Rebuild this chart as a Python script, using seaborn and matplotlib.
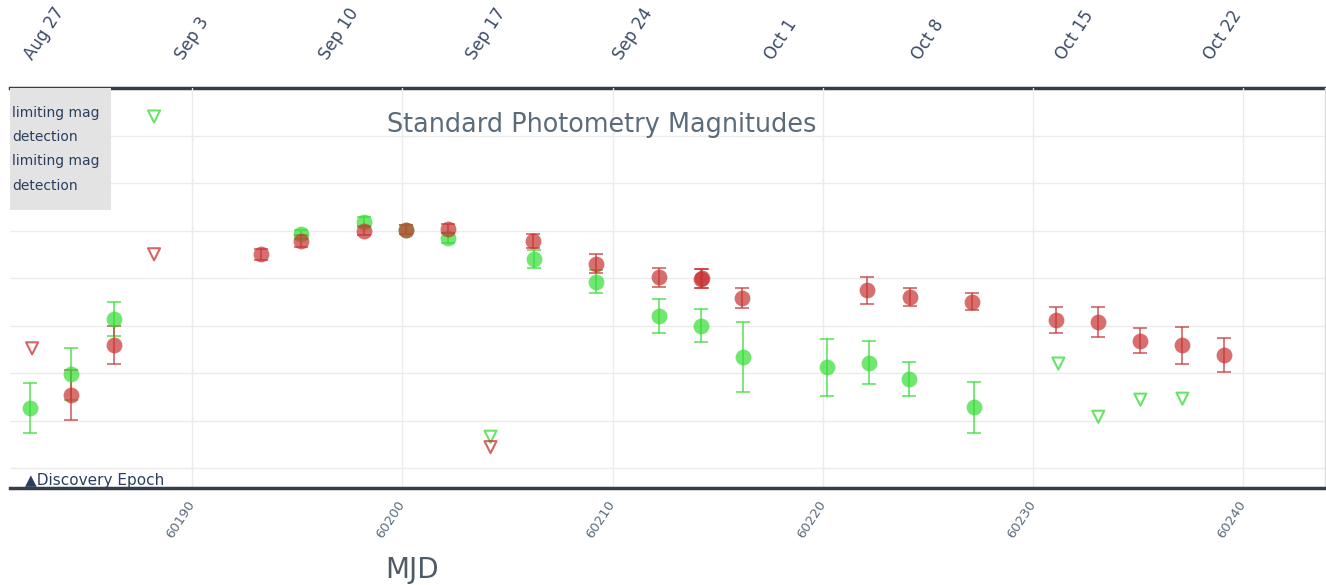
import matplotlib
matplotlib.use("Agg")
import matplotlib.pyplot as plt
import matplotlib.patches as mpatches
import numpy as np
import pandas as pd
import seaborn as sns

# ---- photometry (MJD, magnitude, 1-sigma error) ----
g_mjd = [60182.3, 60184.25, 60186.3, 60195.2, 60198.2, 60200.2, 60202.2, 60206.25,
         60209.2, 60212.2, 60214.2, 60216.2, 60220.2, 60222.2, 60224.1, 60227.2]
g_mag = [18.87, 18.51, 17.93, 17.04, 16.91, 16.99, 17.08, 17.30,
         17.54, 17.90, 18.00, 18.33, 18.44, 18.39, 18.56, 18.86]
g_err = [0.26, 0.27, 0.18, 0.05, 0.05, 0.05, 0.05, 0.09,
         0.12, 0.18, 0.17, 0.37, 0.30, 0.23, 0.18, 0.27]

r_mjd = [60184.25, 60186.3, 60193.3, 60195.2, 60198.2, 60200.2, 60202.2, 60206.2,
         60209.2, 60212.2, 60214.2, 60214.25, 60216.15, 60222.1, 60224.15, 60227.1,
         60231.1, 60233.1, 60235.1, 60237.1, 60239.1]
r_mag = [18.73, 18.20, 17.25, 17.11, 17.00, 16.99, 16.98, 17.11,
         17.35, 17.49, 17.51, 17.50, 17.71, 17.63, 17.70, 17.75,
         17.94, 17.96, 18.16, 18.21, 18.31]
r_err = [0.26, 0.20, 0.06, 0.06, 0.05, 0.05, 0.05, 0.07,
         0.10, 0.10, 0.10, 0.10, 0.11, 0.14, 0.09, 0.09,
         0.14, 0.16, 0.13, 0.19, 0.18]

# ---- upper limits (non-detections) ----
g_lim_mjd = [60188.2, 60204.2, 60231.2, 60233.1, 60235.1, 60237.1]
g_lim_mag = [15.80, 19.17, 18.40, 18.96, 18.78, 18.77]
r_lim_mjd = [60182.4, 60188.2, 60204.2]
r_lim_mag = [18.24, 17.25, 19.28]

# ---- calendar ticks on the upper axis ----
date_mjd = [60183, 60190, 60197, 60204, 60211, 60218, 60225, 60232, 60239]
date_labels = ["Aug 27", "Sep 3", "Sep 10", "Sep 17", "Sep 24",
               "Oct 1", "Oct 8", "Oct 15", "Oct 22"]
mjd_ticks = [60190, 60200, 60210, 60220, 60230, 60240]

legend_labels = ["limiting mag", "detection", "limiting mag", "detection"]

G_COL = "#33dd33"
R_COL = "#c83232"

sns.set_theme(style="white")
plt.rcParams["font.family"] = ["DejaVu Sans"]

W, H = 1326, 585
AX_L, AX_R, AX_T, AX_B = 10, 1325, 88, 488
AX_W, AX_H = AX_R - AX_L, AX_B - AX_T
fig = plt.figure(figsize=(W / 100, H / 100), dpi=100)
fig.patch.set_facecolor("white")
ax = fig.add_axes([AX_L / W, (H - AX_B) / H, AX_W / W, AX_H / H])

# error bars first, markers on top
ax.errorbar(g_mjd, g_mag, yerr=g_err, fmt="none", ecolor=G_COL, elinewidth=1.3,
            capsize=5, capthick=1.3, alpha=0.7, zorder=2)
ax.errorbar(r_mjd, r_mag, yerr=r_err, fmt="none", ecolor=R_COL, elinewidth=1.3,
            capsize=5, capthick=1.3, alpha=0.7, zorder=3)

det_g = pd.DataFrame({"mjd": g_mjd, "mag": g_mag})
det_r = pd.DataFrame({"mjd": r_mjd, "mag": r_mag})
sns.scatterplot(data=det_g, x="mjd", y="mag", ax=ax, color=G_COL, s=130,
                alpha=0.7, linewidth=0, zorder=4, legend=False)
sns.scatterplot(data=det_r, x="mjd", y="mag", ax=ax, color=R_COL, s=130,
                alpha=0.7, linewidth=0, zorder=5, legend=False)

lim_g = pd.DataFrame({"mjd": g_lim_mjd, "mag": g_lim_mag})
lim_r = pd.DataFrame({"mjd": r_lim_mjd, "mag": r_lim_mag})
sns.scatterplot(data=lim_g, x="mjd", y="mag", ax=ax, marker="v", s=75,
                facecolor="none", edgecolor=G_COL, linewidth=1.5, alpha=0.75,
                zorder=4, legend=False)
sns.scatterplot(data=lim_r, x="mjd", y="mag", ax=ax, marker="v", s=75,
                facecolor="none", edgecolor=R_COL, linewidth=1.5, alpha=0.75,
                zorder=5, legend=False)

# ---- axes, limits and grid ----
ax.set_xlim(60181.35, 60243.88)
ax.set_ylim(19.71, 15.5)
ax.set_xticks(mjd_ticks)
ax.set_yticks(np.arange(16.0, 19.51, 0.5))
ax.set_yticklabels([])
ax.grid(True, color="#ebebeb", linewidth=1)
ax.set_axisbelow(True)
ax.set_xlabel("")
ax.set_ylabel("")
ax.tick_params(axis="y", length=0)
ax.tick_params(axis="x", direction="in", length=6, width=1, color="#444444",
               pad=10, labelsize=9.5, labelcolor="#5a6b7c")
for lab in ax.get_xticklabels():
    lab.set_rotation(57)
    lab.set_rotation_mode("anchor")
    lab.set_ha("right")
    lab.set_va("center")

for side in ("left", "top"):
    ax.spines[side].set_visible(False)
ax.spines["bottom"].set_color("#363d4a")
ax.spines["bottom"].set_linewidth(2.5)
ax.spines["right"].set_color("#dddddd")
ax.spines["right"].set_linewidth(1)

top = ax.secondary_xaxis("top")
top.set_xticks(date_mjd)
top.set_xticklabels(date_labels)
top.tick_params(axis="x", length=0, pad=18, labelsize=12, labelcolor="#3b4b66")
for lab in top.get_xticklabels():
    lab.set_rotation(57)
    lab.set_ha("center")
    lab.set_va("bottom")
top.spines["top"].set_color("#363d4a")
top.spines["top"].set_linewidth(2.5)

# ---- legend panel at the upper left ----
ax.add_patch(mpatches.Rectangle((0, (AX_B - 210) / AX_H), 101 / AX_W, 122 / AX_H,
                                transform=ax.transAxes, facecolor="#e3e3e3",
                                edgecolor="none", zorder=6, clip_on=False))
legend_y = [113, 137, 161, 186]
for txt, ypx in zip(legend_labels, legend_y):
    ax.text(2 / AX_W, (AX_B - ypx) / AX_H, txt, transform=ax.transAxes,
            fontsize=10, color="#2a3f5f", ha="left", va="center", zorder=7)

# ---- annotations and titles ----
ax.text(15 / AX_W, (AX_B - 481) / AX_H, "\u25b2Discovery Epoch", transform=ax.transAxes,
        fontsize=11, color="#2a3f5f", ha="left", va="center", zorder=7)
fig.text(602 / W, 1 - 125 / H, "Standard Photometry Magnitudes", fontsize=18.4,
         color="#5a6b7b", ha="center", va="center")
fig.text(412 / W, 1 - 570 / H, "MJD", fontsize=20, color="#4f5b66",
         ha="center", va="center")

fig.savefig("out.png", dpi=100)
